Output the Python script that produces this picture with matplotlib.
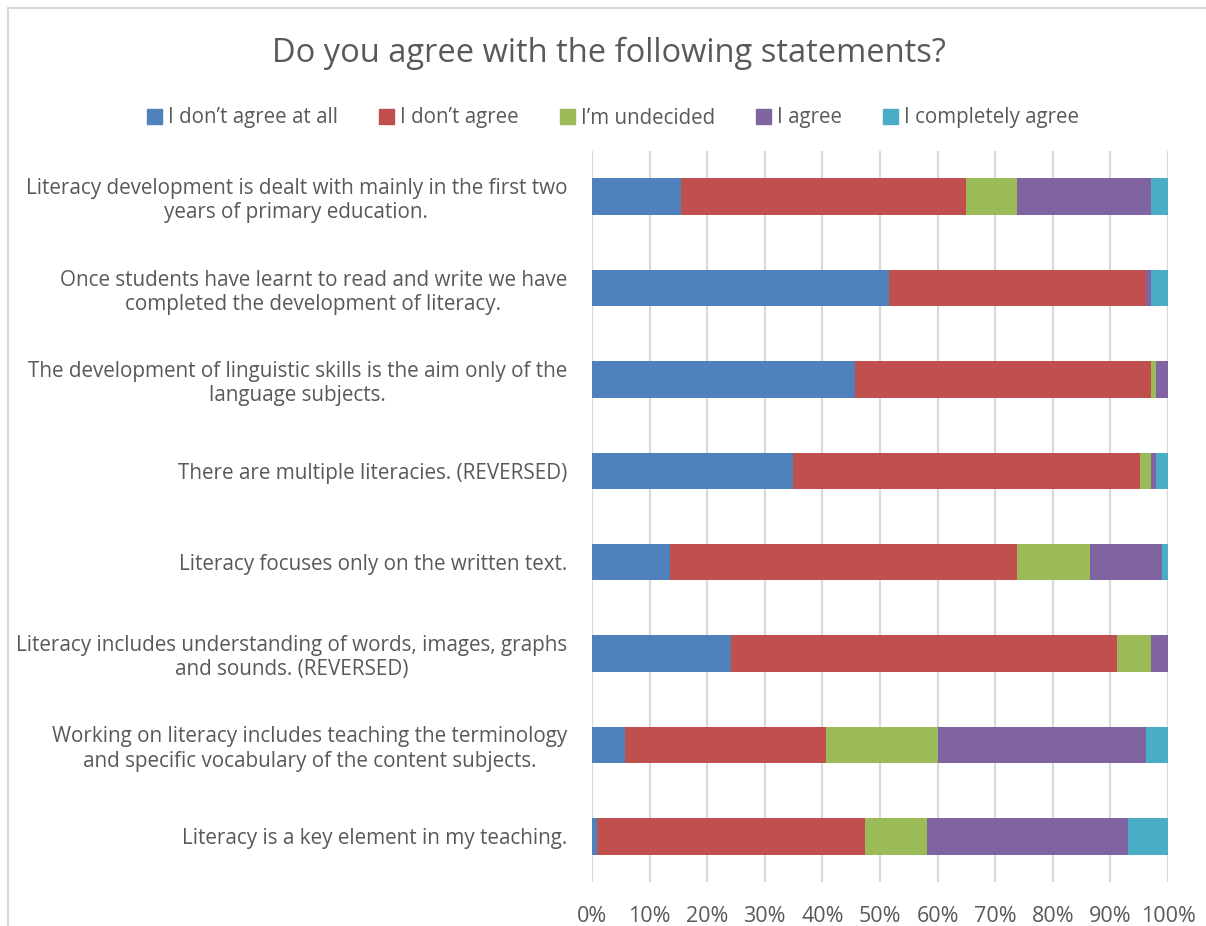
import numpy as np
import matplotlib.pyplot as plt
from matplotlib.lines import Line2D
from matplotlib.ticker import PercentFormatter

plt.rcParams['font.family'] = ['Open Sans', 'DejaVu Sans']

statements = [
    "Literacy development is dealt with mainly in the first two\nyears of primary education.",
    "Once students have learnt to read and write we have\ncompleted the development of literacy.",
    "The development of linguistic skills is the aim only of the\nlanguage subjects.",
    "There are multiple literacies. (REVERSED)",
    "Literacy focuses only on the written text.",
    "Literacy includes understanding of words, images, graphs\nand sounds. (REVERSED)",
    "Working on literacy includes teaching the terminology\nand specific vocabulary of the content subjects.",
    "Literacy is a key element in my teaching.",
]

answers = ["I don\u2019t agree at all", "I don\u2019t agree", "I\u2019m undecided",
           "I agree", "I completely agree"]

# share of answers per statement (%)
dont_agree_at_all = [15.4, 51.5, 45.6, 34.9, 13.5, 24.2, 5.7, 0.8]
dont_agree        = [49.5, 44.6, 51.4, 60.2, 60.2, 67.0, 34.9, 46.6]
undecided         = [8.8, 0.0, 1.0, 1.9, 12.8, 5.8, 19.5, 10.8]
agree             = [23.3, 0.9, 2.0, 0.9, 12.5, 3.0, 36.0, 34.9]
completely_agree  = [3.0, 3.0, 0.0, 2.1, 1.0, 0.0, 3.9, 6.9]

colors = ["#4F81BD", "#C0504D", "#9BBB59", "#8064A2", "#4BACC6"]
text_color = "#595959"

series = [dont_agree_at_all, dont_agree, undecided, agree, completely_agree]
data = np.array(series, dtype=float)
data = data / data.sum(axis=0)  # 100% stacked

fig = plt.figure(figsize=(12.06, 9.26), dpi=100)
ax = fig.add_axes([592 / 1206, 44 / 926, 576 / 1206, 731 / 926])

y = np.arange(len(statements))
left = np.zeros(len(statements))
for vals, col, name in zip(data, colors, answers):
    ax.barh(y, vals, left=left, height=0.4, color=col, label=name, zorder=3)
    left += vals

ax.set_xlim(0, 1)
ax.set_ylim(len(statements) - 0.5, -0.5)
ax.set_xticks(np.linspace(0, 1, 11))
ax.xaxis.set_major_formatter(PercentFormatter(1.0, decimals=0))
ax.set_yticks(y)
ax.set_yticklabels(statements, multialignment='center', linespacing=1.2)
ax.tick_params(axis='y', length=0, pad=18, labelsize=14.9, labelcolor=text_color)
ax.tick_params(axis='x', length=0, pad=17, labelsize=15.5, labelcolor=text_color)
ax.grid(axis='x', color="#D9D9D9", linewidth=1.6, zorder=0)
for s in ax.spines.values():
    s.set_visible(False)

fig.text(609 / 1206, 1 - 53 / 926, "Do you agree with the following statements?",
         ha='center', va='center', fontsize=23.5, color=text_color)

handles = [plt.Rectangle((0, 0), 1, 1, color=c) for c in colors]
fig.legend(handles, answers, loc='center', bbox_to_anchor=(613 / 1206, 1 - 118 / 926),
           ncol=5, frameon=False, fontsize=14.8, labelcolor=text_color,
           handlelength=0.72, handleheight=0.72, handletextpad=0.3, columnspacing=2.0)

# chart frame
fig.add_artist(Line2D([8 / 1206, 8 / 1206], [0, 1 - 8 / 926], color="#D9D9D9", lw=1.5))
fig.add_artist(Line2D([8 / 1206, 1], [1 - 8 / 926, 1 - 8 / 926], color="#D9D9D9", lw=1.5))

fig.savefig("out.png", dpi=100)
